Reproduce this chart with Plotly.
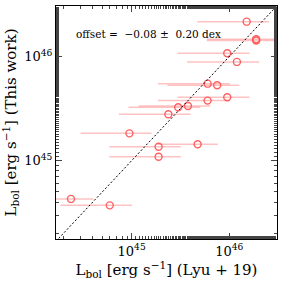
import plotly.graph_objects as go

# Values in units of 1e45 erg/s
lbol_lyu19 = [15.1, 18.9, 18.9, 9.55, 12.0, 6.01, 7.53, 9.55, 6.01, 3.78, 3.0, 2.38, 0.95, 4.75, 1.89, 1.89, 0.239, 0.597]
lbol_this = [21.7, 14.7, 14.3, 10.8, 8.9, 5.5, 5.31, 4.07, 3.78, 3.36, 3.26, 2.79, 1.83, 1.44, 1.36, 1.09, 0.429, 0.372]
lbol_lyu19_err = [10.4, 13.0, 13.0, 6.6, 8.3, 4.15, 5.2, 6.6, 4.15, 2.6, 2.07, 1.64, 0.65, 2.9, 1.3, 1.3, 0.17, 0.41]
one_to_one = [1e44, 1e47]
tick_vals = [1e45, 1e46]
tick_text = ["10<sup>45</sup>", "10<sup>46</sup>"]
offset_text = "offset =  \u22120.08 \u00b1  0.20 dex"

scale = 1e45
x = [v * scale for v in lbol_lyu19]
y = [v * scale for v in lbol_this]
xe = [v * scale for v in lbol_lyu19_err]

FONT = "DejaVu Serif"

fig = go.Figure()
fig.add_trace(go.Scatter(
    x=x, y=y, mode="markers",
    error_x=dict(type="data", array=xe, visible=True, color="rgba(255,120,120,0.45)",
                 thickness=1.5, width=0),
    marker=dict(symbol="circle-open", size=7, color="rgba(255,80,80,0.9)",
                line=dict(width=1.4, color="rgba(255,80,80,0.9)")),
    showlegend=False,
))
fig.add_trace(go.Scatter(
    x=one_to_one, y=one_to_one, mode="lines",
    line=dict(color="black", width=1, dash="2px,2px"),
    showlegend=False,
))

axis_common = dict(
    type="log", showgrid=False, zeroline=False, automargin=False,
    showline=True, linecolor="black", linewidth=1, mirror="allticks",
    ticks="inside", ticklen=6, tickwidth=1, tickcolor="#444",
    tickvals=tick_vals, ticktext=tick_text,
    tickfont=dict(family=FONT, size=13, color="black"),
    minor=dict(ticks="inside", ticklen=3, tickwidth=1, tickcolor="#444", showgrid=False),
)

fig.update_layout(
    width=283, height=282,
    margin=dict(l=56, r=6, t=6, b=43),
    plot_bgcolor="white", paper_bgcolor="white",
    xaxis=dict(axis_common, range=[44.225, 46.49],
               title=dict(text="L<sub>bol</sub> [erg s<sup>\u22121</sup>] (Lyu + 19)",
                          font=dict(family=FONT, size=15, color="black"), standoff=0)),
    yaxis=dict(axis_common, range=[44.247, 46.487],
               title=dict(text="L<sub>bol</sub> [erg s<sup>\u22121</sup>] (This work)",
                          font=dict(family=FONT, size=15, color="black"), standoff=5)),
    annotations=[dict(text=offset_text, xref="paper", yref="paper", x=0.08, y=0.88,
                      xanchor="left", yanchor="middle", showarrow=False,
                      font=dict(family=FONT, size=10.5, color="black"))],
)

fig.write_html("out.html", config={"displayModeBar": False},
               post_script="document.body.style.margin='0';document.body.style.overflow='hidden';")
